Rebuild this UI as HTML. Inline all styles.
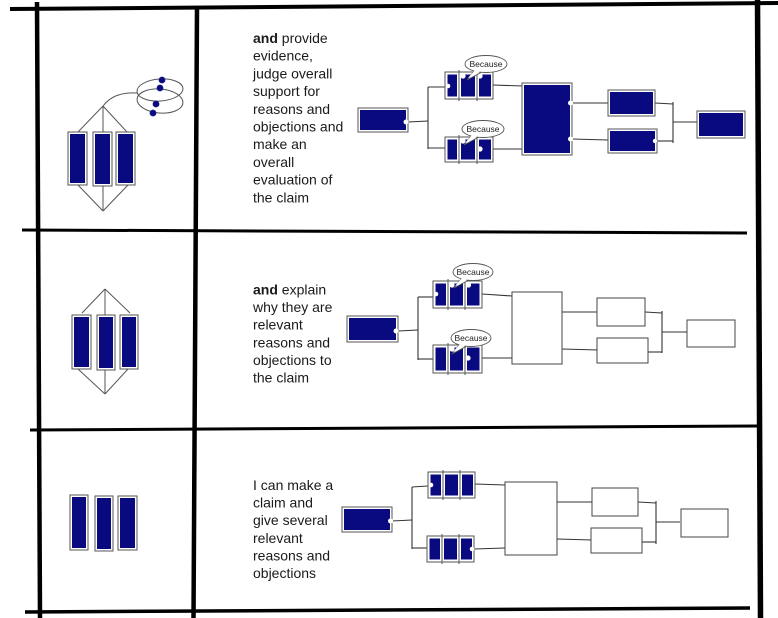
<!DOCTYPE html>
<html>
<head>
<meta charset="utf-8">
<style>
  html, body { margin: 0; padding: 0; background: #fff; }
  svg { display: block; }
  .t { font-family: "Liberation Sans", Arial, sans-serif; font-size: 14px; fill: #1a1a1a; }
  .b { font-family: "Liberation Sans", Arial, sans-serif; font-size: 8.5px; fill: #222; }
</style>
</head>
<body>
<svg width="778" height="618" viewBox="0 0 778 618" xmlns="http://www.w3.org/2000/svg">
  <defs>
    <style>
      .ln { stroke: #333; stroke-width: 1.1; fill: none; }
      .lt { stroke: #555; stroke-width: 1; fill: none; }
      .ob { fill: #fff; stroke: #555; stroke-width: 1; }
      .bl { fill: #0a0a80; }
      .wb { fill: #fff; stroke: #444; stroke-width: 1; }
      .bub { fill: #fff; stroke: #555; stroke-width: 0.9; }
      .n { fill: #fff; }
    </style>
  </defs>

  <!-- ============ BORDERS ============ -->
  <line x1="10" y1="9" x2="778" y2="3" stroke="#000" stroke-width="4"/>
  <line x1="37" y1="2" x2="40" y2="618" stroke="#000" stroke-width="4.5"/>
  <line x1="197" y1="8" x2="193.5" y2="618" stroke="#000" stroke-width="4.5"/>
  <line x1="757.5" y1="0" x2="760.5" y2="618" stroke="#000" stroke-width="5.5"/>
  <line x1="22" y1="230" x2="747" y2="233" stroke="#000" stroke-width="3"/>
  <line x1="30" y1="430" x2="757" y2="426" stroke="#000" stroke-width="3"/>
  <line x1="25" y1="612" x2="750" y2="608" stroke="#000" stroke-width="3.5"/>

  <!-- ============ ROW 1 ICON ============ -->
  <g class="lt">
    <line x1="103" y1="106" x2="78" y2="132"/>
    <line x1="103" y1="106" x2="127" y2="132"/>
    <line x1="103" y1="106" x2="103" y2="211"/>
    <line x1="78" y1="185" x2="103" y2="211"/>
    <line x1="128" y1="185" x2="103" y2="211"/>
    <path d="M103,106 C110,97 120,92 137,93"/>
    <ellipse cx="160" cy="90" rx="23" ry="11" transform="rotate(-4 160 90)"/>
    <ellipse cx="160" cy="101" rx="23" ry="12" transform="rotate(5 160 101)"/>
  </g>
  <g fill="#0a0a80" stroke="#1a1a8a" stroke-width="0.8">
    <circle cx="162" cy="80" r="3"/>
    <circle cx="160" cy="88" r="3"/>
    <circle cx="156" cy="104" r="3"/>
    <circle cx="153" cy="113" r="3"/>
  </g>
  <g>
    <rect class="ob" x="68" y="132" width="19" height="53"/>
    <rect class="bl" x="70" y="134" width="15" height="49"/>
    <rect class="ob" x="93" y="132" width="19" height="54"/>
    <rect class="bl" x="95" y="134" width="15" height="50"/>
    <rect class="ob" x="116" y="132" width="19" height="53"/>
    <rect class="bl" x="118" y="134" width="15" height="49"/>
  </g>

  <!-- ============ ROW 2 ICON ============ -->
  <g class="lt">
    <line x1="105" y1="289" x2="82" y2="313"/>
    <line x1="105" y1="289" x2="130" y2="313"/>
    <line x1="105" y1="289" x2="105" y2="394"/>
    <line x1="78" y1="369" x2="105" y2="394"/>
    <line x1="128" y1="369" x2="105" y2="394"/>
  </g>
  <g>
    <rect class="ob" x="72" y="315" width="19" height="54"/>
    <rect class="bl" x="74" y="317" width="15" height="50"/>
    <rect class="ob" x="97" y="315" width="18" height="55"/>
    <rect class="bl" x="99" y="317" width="14" height="51"/>
    <rect class="ob" x="120" y="315" width="18" height="54"/>
    <rect class="bl" x="122" y="317" width="14" height="50"/>
  </g>

  <!-- ============ ROW 3 ICON ============ -->
  <g>
    <rect class="ob" x="70" y="495" width="18" height="55"/>
    <rect class="bl" x="72" y="497" width="14" height="51"/>
    <rect class="ob" x="95" y="496" width="18" height="55"/>
    <rect class="bl" x="97" y="498" width="14" height="51"/>
    <rect class="ob" x="118" y="496" width="19" height="54"/>
    <rect class="bl" x="120" y="498" width="15" height="50"/>
  </g>

  <!-- ============ TEXT ============ -->
  <text class="t" x="253" y="43">
    <tspan font-weight="bold">and</tspan><tspan> provide</tspan>
    <tspan x="253" y="60.7">evidence,</tspan>
    <tspan x="253" y="78.4">judge overall</tspan>
    <tspan x="253" y="96.1">support for</tspan>
    <tspan x="253" y="113.8">reasons and</tspan>
    <tspan x="253" y="131.5">objections and</tspan>
    <tspan x="253" y="149.2">make an</tspan>
    <tspan x="253" y="166.9">overall</tspan>
    <tspan x="253" y="184.6">evaluation of</tspan>
    <tspan x="253" y="202.3">the claim</tspan>
  </text>
  <text class="t" x="253" y="294.5">
    <tspan font-weight="bold">and</tspan><tspan> explain</tspan>
    <tspan x="253" y="312.1">why they are</tspan>
    <tspan x="253" y="329.7">relevant</tspan>
    <tspan x="253" y="347.3">reasons and</tspan>
    <tspan x="253" y="364.9">objections to</tspan>
    <tspan x="253" y="382.5">the claim</tspan>
  </text>
  <text class="t" x="253" y="490">
    <tspan>I can make a</tspan>
    <tspan x="253" y="507.6">claim and</tspan>
    <tspan x="253" y="525.2">give several</tspan>
    <tspan x="253" y="542.8">relevant</tspan>
    <tspan x="253" y="560.4">reasons and</tspan>
    <tspan x="253" y="578">objections</tspan>
  </text>

  <!-- ============ ROW 1 DIAGRAM ============ -->
  <g class="ln">
    <line x1="408" y1="122" x2="428" y2="121"/>
    <line x1="428" y1="87" x2="428" y2="149"/>
    <line x1="428" y1="87" x2="446" y2="87"/>
    <line x1="428" y1="148" x2="446" y2="148"/>
    <line x1="493" y1="85" x2="523" y2="86"/>
    <line x1="493" y1="149" x2="523" y2="149"/>
    <line x1="572" y1="103" x2="608" y2="103"/>
    <line x1="572" y1="139" x2="608" y2="140"/>
    <line x1="655" y1="103" x2="673" y2="104"/>
    <line x1="657" y1="141" x2="673" y2="141"/>
    <line x1="673" y1="102" x2="673" y2="143"/>
    <line x1="673" y1="122" x2="697" y2="122"/>
  </g>
  <!-- claim -->
  <rect class="ob" x="358" y="108" width="50" height="24"/>
  <rect class="bl" x="360" y="110" width="46" height="20"/>
  <circle class="n" cx="406" cy="122" r="2.5"/>
  <!-- top group -->
  <rect class="ob" x="445" y="72" width="48" height="27"/>
  <line class="lt" x1="459" y1="70" x2="459" y2="101"/>
  <line class="lt" x1="477" y1="70" x2="477" y2="101"/>
  <rect class="bl" x="447.5" y="74.5" width="9.5" height="22"/>
  <rect class="bl" x="461" y="74.5" width="14" height="22"/>
  <rect class="bl" x="479" y="74.5" width="12" height="22"/>
  <circle class="n" cx="448" cy="86" r="2.3"/>
  <circle class="n" cx="463" cy="76" r="2.6"/>
  <circle class="n" cx="480" cy="76" r="2.6"/>
  <!-- bottom group -->
  <rect class="ob" x="445" y="137" width="48" height="25"/>
  <line class="lt" x1="459" y1="135" x2="459" y2="164"/>
  <line class="lt" x1="477" y1="135" x2="477" y2="164"/>
  <rect class="bl" x="447.5" y="139.5" width="9.5" height="20"/>
  <rect class="bl" x="461" y="139.5" width="14" height="20"/>
  <rect class="bl" x="479" y="139.5" width="12" height="20"/>
  <circle class="n" cx="463" cy="141" r="2.6"/>
  <circle class="n" cx="480" cy="149" r="2.6"/>
  <!-- bubbles -->
  <path class="bub" d="M474,71 L467,80 L481,72.5"/>
  <ellipse class="bub" cx="486" cy="64" rx="21" ry="8.5"/>
  <path d="M475,70 L468,78 L480,71.5 Z" fill="#fff"/>
  <text class="b" x="486" y="67" text-anchor="middle">Because</text>
  <path class="bub" d="M471,136 L464,145 L478,137.5"/>
  <ellipse class="bub" cx="483" cy="129" rx="21" ry="8.5"/>
  <path d="M472,135 L465,143 L477,136.5 Z" fill="#fff"/>
  <text class="b" x="483" y="132" text-anchor="middle">Because</text>
  <!-- center -->
  <rect class="ob" x="522" y="83" width="50" height="72"/>
  <rect class="bl" x="524" y="85" width="46" height="68"/>
  <circle class="n" cx="570.5" cy="103" r="2.5"/>
  <circle class="n" cx="570.5" cy="139" r="2.5"/>
  <!-- right boxes -->
  <rect class="ob" x="608" y="90" width="47" height="26"/>
  <rect class="bl" x="610" y="92" width="43" height="22"/>
  <rect class="ob" x="608" y="129" width="49" height="24"/>
  <rect class="bl" x="610" y="131" width="45" height="20"/>
  <circle class="n" cx="655" cy="141" r="2.2"/>
  <!-- final -->
  <rect class="ob" x="697" y="111" width="48" height="27"/>
  <rect class="bl" x="699" y="113" width="44" height="23"/>

  <!-- ============ ROW 2 DIAGRAM ============ -->
  <g class="ln">
    <line x1="398" y1="331" x2="418" y2="330"/>
    <line x1="418" y1="297" x2="418" y2="360"/>
    <line x1="418" y1="297" x2="433" y2="297"/>
    <line x1="418" y1="359" x2="433" y2="359"/>
    <line x1="482" y1="294" x2="512" y2="296"/>
    <line x1="482" y1="358" x2="512" y2="358"/>
    <line x1="562" y1="312" x2="598" y2="312"/>
    <line x1="562" y1="349" x2="598" y2="350"/>
    <line x1="645" y1="312" x2="662" y2="313"/>
    <line x1="648" y1="352" x2="662" y2="352"/>
    <line x1="662" y1="311" x2="662" y2="353"/>
    <line x1="662" y1="332" x2="687" y2="332"/>
  </g>
  <rect class="ob" x="347" y="316" width="51" height="26"/>
  <rect class="bl" x="349" y="318" width="47" height="22"/>
  <circle class="n" cx="396" cy="331" r="2.5"/>
  <!-- top group -->
  <rect class="ob" x="433" y="281" width="49" height="27"/>
  <line class="lt" x1="448" y1="279" x2="448" y2="310"/>
  <line class="lt" x1="465" y1="279" x2="465" y2="310"/>
  <rect class="bl" x="435.5" y="283.5" width="10.5" height="22"/>
  <rect class="bl" x="450" y="283.5" width="13" height="22"/>
  <rect class="bl" x="467" y="283.5" width="12.5" height="22"/>
  <circle class="n" cx="436" cy="294" r="2.3"/>
  <circle class="n" cx="452" cy="285" r="2.6"/>
  <circle class="n" cx="468.5" cy="285" r="2.6"/>
  <!-- bottom group -->
  <rect class="ob" x="433" y="345" width="49" height="28"/>
  <line class="lt" x1="448" y1="343" x2="448" y2="375"/>
  <line class="lt" x1="465" y1="343" x2="465" y2="375"/>
  <rect class="bl" x="435.5" y="347.5" width="10.5" height="23"/>
  <rect class="bl" x="450" y="347.5" width="13" height="23"/>
  <rect class="bl" x="467" y="347.5" width="12.5" height="23"/>
  <circle class="n" cx="452" cy="349" r="2.6"/>
  <circle class="n" cx="468" cy="358" r="2.6"/>
  <!-- bubbles -->
  <path class="bub" d="M461,279 L454,288 L468,280.5"/>
  <ellipse class="bub" cx="473" cy="272" rx="20" ry="8.5"/>
  <path d="M462,278 L455,286 L467,279.5 Z" fill="#fff"/>
  <text class="b" x="473" y="275" text-anchor="middle">Because</text>
  <path class="bub" d="M459,345 L452,354 L466,346.5"/>
  <ellipse class="bub" cx="471" cy="338" rx="20" ry="8.5"/>
  <path d="M460,344 L453,352 L465,345.5 Z" fill="#fff"/>
  <text class="b" x="471" y="341" text-anchor="middle">Because</text>
  <!-- center / right / final (white) -->
  <rect class="wb" x="512" y="292" width="50" height="72"/>
  <rect class="wb" x="597" y="298" width="48" height="28"/>
  <rect class="wb" x="597" y="338" width="51" height="25"/>
  <rect class="wb" x="687" y="320" width="48" height="27"/>

  <!-- ============ ROW 3 DIAGRAM ============ -->
  <g class="ln">
    <line x1="392" y1="521" x2="412" y2="520"/>
    <line x1="412" y1="487" x2="412" y2="549"/>
    <line x1="412" y1="487" x2="428" y2="486"/>
    <line x1="412" y1="548" x2="427" y2="548"/>
    <line x1="475" y1="484" x2="505" y2="485"/>
    <line x1="474" y1="549" x2="505" y2="548"/>
    <line x1="557" y1="502" x2="592" y2="502"/>
    <line x1="557" y1="539" x2="592" y2="540"/>
    <line x1="638" y1="502" x2="656" y2="503"/>
    <line x1="642" y1="542" x2="656" y2="542"/>
    <line x1="656" y1="501" x2="656" y2="544"/>
    <line x1="656" y1="522" x2="680" y2="522"/>
  </g>
  <rect class="ob" x="342" y="507" width="50" height="25"/>
  <rect class="bl" x="344" y="509" width="46" height="21"/>
  <circle class="n" cx="390.5" cy="521" r="2.5"/>
  <!-- top group -->
  <rect class="ob" x="428" y="472" width="47" height="26"/>
  <line class="lt" x1="443" y1="470" x2="443" y2="500"/>
  <line class="lt" x1="460" y1="470" x2="460" y2="500"/>
  <rect class="bl" x="430.5" y="474.5" width="10.5" height="21"/>
  <rect class="bl" x="445" y="474.5" width="13" height="21"/>
  <rect class="bl" x="462" y="474.5" width="11" height="21"/>
  <circle class="n" cx="431" cy="485" r="2.3"/>
  <!-- bottom group -->
  <rect class="ob" x="427" y="536" width="47" height="26"/>
  <line class="lt" x1="442" y1="534" x2="442" y2="564"/>
  <line class="lt" x1="459" y1="534" x2="459" y2="564"/>
  <rect class="bl" x="429.5" y="538.5" width="10.5" height="21"/>
  <rect class="bl" x="444" y="538.5" width="13" height="21"/>
  <rect class="bl" x="461" y="538.5" width="11" height="21"/>
  <circle class="n" cx="472" cy="549" r="2.3"/>
  <!-- white boxes -->
  <rect class="wb" x="505" y="482" width="52" height="73"/>
  <rect class="wb" x="592" y="488" width="46" height="28"/>
  <rect class="wb" x="591" y="528" width="51" height="25"/>
  <rect class="wb" x="681" y="509" width="47" height="28"/>
</svg>
</body>
</html>
